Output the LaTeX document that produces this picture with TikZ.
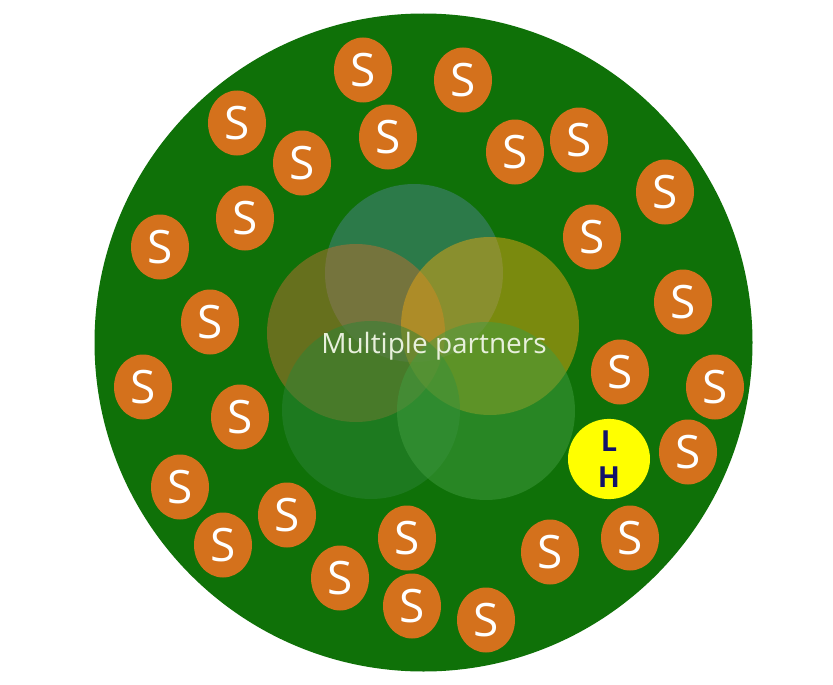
\documentclass[tikz,border=0pt]{standalone}
\usepackage{fontspec}
\setmainfont{Open Sans}
\usepackage{tikz}
\usetikzlibrary{shapes.geometric}
\definecolor{poolgreen}{HTML}{0F7108}
\definecolor{sorange}{HTML}{D4711C}
\definecolor{lhyellow}{HTML}{FFFF00}
\definecolor{lhnavy}{HTML}{12126A}
\definecolor{ptext}{HTML}{E8F0DC}
\tikzstyle{sbub} = [ellipse, fill=sorange, minimum width=58pt, minimum height=65pt, inner sep=0pt, text=white, font=\fontsize{46}{46}\selectfont]
\tikzstyle{partner} = [circle, minimum size=178pt, inner sep=0pt, fill opacity=0.5]

\begin{document}
\begin{tikzpicture}[x=1pt, y=-1pt]
        \useasboundingbox (0,0) rectangle (833,685);
        % Outer pool
        \node[circle, fill=poolgreen, minimum size=658pt, inner sep=0pt] (pool) at (423.5,342.5) {};
        % Partner circles
        \node[partner, fill={rgb,255:red,74;green,132;blue,138}] (ptop) at (414,273) {};
        \node[partner, fill={rgb,255:red,190;green,112;blue,50}] (pleft) at (356,333) {};
        \node[partner, fill={rgb,255:red,230;green,164;blue,20}] (pright) at (490,326) {};
        \node[partner, fill={rgb,255:red,44;green,132;blue,54}] (pbotl) at (371,410) {};
        \node[partner, fill={rgb,255:red,66;green,156;blue,64}] (pbotr) at (486,411) {};
        \node[text=ptext, font=\fontsize{28}{28}\selectfont] (multi) at (434,346) {Multiple partners};
        % S bubbles
        \foreach \x/\y [count=\i] in {363/70, 463/80, 237/123, 388/137, 515/152, 579/140,
            302/163, 665/192, 245/218, 160/247, 592/237, 683/302, 210/322, 620/372,
            143/387, 715/387, 240/417, 688/452, 180/487, 287/515, 223/545, 407/538,
            550/552, 630/538, 340/578, 412/606, 486/620}
            \node[sbub] (s\i) at (\x,\y) {S};
        % LH bubble
        \node[ellipse, fill=lhyellow, minimum width=82pt, minimum height=74pt, inner sep=0pt,
            text=lhnavy, font=\bfseries\fontsize{29}{36}\selectfont, align=center] (lh) at (609,459) {L\\H};
\end{tikzpicture}
\end{document}
